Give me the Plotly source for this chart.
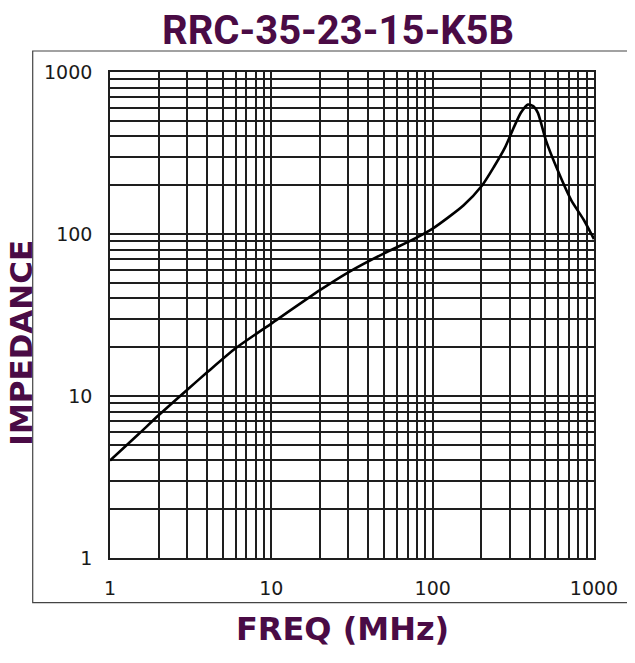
import plotly.graph_objects as go

# ---- data ----
freq_mhz = [1, 1.5, 2, 3, 4, 6, 10, 20, 30, 50, 70, 100, 155, 203, 240, 280, 320, 352, 390, 420, 449, 503, 594, 722, 865, 1000]
impedance = [4.0, 5.8, 7.6, 10.9, 14.0, 19.7, 28.0, 45.0, 58.0, 76.0, 89.0, 108.0, 150.0, 200.0, 260.0, 340.0, 460.0, 560.0, 630.0, 616.0, 559.0, 380.0, 249.0, 162.0, 122.0, 93.0]

grid_vals = [m * d for d in (1, 10, 100) for m in range(1, 10)] + [1000]
major_vals = [1, 10, 100, 1000]
major_text = ["1", "10", "100", "1000"]
tick_text = [major_text[major_vals.index(v)] if v in major_vals else "" for v in grid_vals]

title_text = "RRC-35-23-15-K5B"
x_title = "FREQ (MHz)"
y_title = "IMPEDANCE"

PURPLE = "#4a0b45"
GRID = "#1e1e1e"

fig = go.Figure()
fig.add_trace(go.Scatter(
    x=freq_mhz, y=impedance, mode="lines",
    line=dict(color="black", width=2.6, shape="spline", smoothing=0.6),
    hoverinfo="skip", showlegend=False,
))

axis_common = dict(
    type="log",
    tickmode="array",
    tickvals=grid_vals,
    ticktext=tick_text,
    showgrid=True,
    gridcolor=GRID,
    gridwidth=1.5,
    showline=True,
    linecolor=GRID,
    linewidth=1.6,
    mirror=True,
    ticks="",
    zeroline=False,
    tickfont=dict(family="DejaVu Sans", size=19, color="#1a1a1a"),
    ticklabelstandoff=12,
)

fig.update_xaxes(range=[0, 3], **axis_common)
fig.update_yaxes(range=[0, 3], **axis_common)

# page has an 8px body margin, so the figure is 8px smaller than the window
fig.update_layout(
    width=627, height=655,
    margin=dict(l=102, r=41, t=64, b=105),
    plot_bgcolor="white", paper_bgcolor="white",
    showlegend=False,
    shapes=[
        dict(type="rect", xref="paper", yref="paper",
             x0=-0.1597, x1=1.3, y0=-0.092, y1=1.0432,
             line=dict(color="#444444", width=1.2), fillcolor="rgba(0,0,0,0)", layer="below"),
    ],
    annotations=[
        dict(text=f"<b>{title_text}</b>", xref="paper", yref="paper", x=0.471, y=1.086,
             xanchor="center", yanchor="middle", showarrow=False,
             font=dict(family="Roboto", size=40, color=PURPLE)),
        dict(text=f"<b>{x_title}</b>", xref="paper", yref="paper", x=0.480, y=-0.146,
             xanchor="center", yanchor="middle", showarrow=False,
             font=dict(family="DejaVu Sans", size=32, color=PURPLE)),
        dict(text=f"<b>{y_title}</b>", xref="paper", yref="paper", x=-0.183, y=0.444,
             xanchor="center", yanchor="middle", showarrow=False, textangle=-90,
             font=dict(family="DejaVu Sans", size=31, color=PURPLE)),
    ],
)

fig.write_html("out.html")
